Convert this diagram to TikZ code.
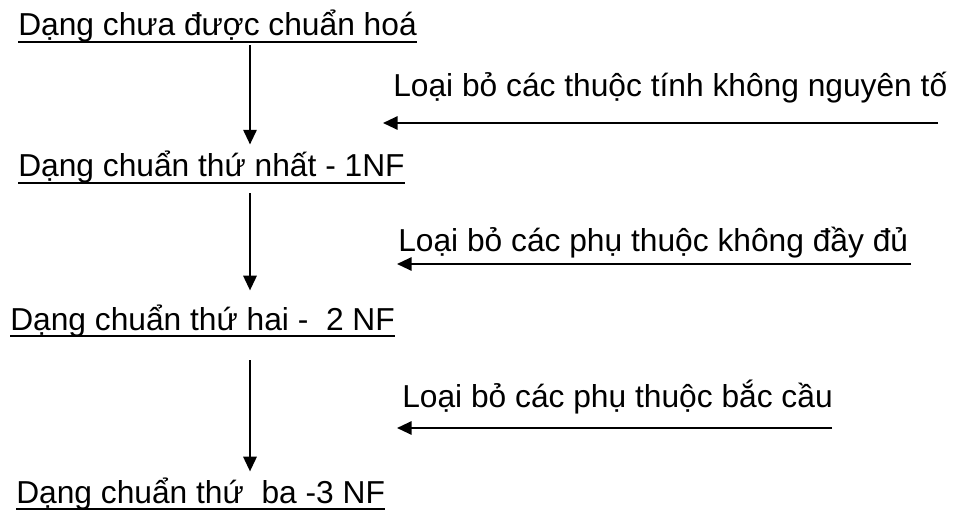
\documentclass[tikz,border=0pt]{standalone}
\usepackage{fontspec}
\setmainfont{Liberation Sans}
\usetikzlibrary{arrows.meta}
\newcommand{\ulbox}[1]{\setbox0=\hbox{#1}\rlap{\rule[-5pt]{\wd0}{1.5pt}}\box0}

\begin{document}
\begin{tikzpicture}[x=0.75pt, y=-0.75pt,
  every node/.style={font=\fontsize{23.8}{28}\selectfont, inner sep=0pt, anchor=base west},
  flow/.style={-{Triangle[length=11pt,width=10pt]}, line width=1.5pt}]
\useasboundingbox (0,0) rectangle (956,513);
\node (nf0) at (18,36) {\ulbox{Dạng chưa được chuẩn hoá}};
\node (nf1) at (18,177) {\ulbox{Dạng chuẩn thứ nhất - 1NF}};
\node (nf2) at (10,330) {\ulbox{Dạng chuẩn thứ hai -~ 2 NF}};
\node (nf3) at (16,503) {\ulbox{Dạng chuẩn thứ~ ba -3 NF}};

\node (rm1) at (393,97) {Loại bỏ các thuộc tính không nguyên tố};
\node (rm2) at (398,252) {Loại bỏ các phụ thuộc không đầy đủ};
\node (rm3) at (402,407) {Loại bỏ các phụ thuộc bắc cầu};

\coordinate (axis) at (250,0);
\draw[flow, shorten <=1.7pt, shorten >=5pt] (nf0.south -| axis) -- (nf1.north -| axis);
\draw[flow, shorten <=7pt, shorten >=10.3pt] (nf1.south -| axis) -- (nf2.north -| axis);
\draw[flow, shorten <=17.5pt, shorten >=4.3pt] (nf2.south -| axis) -- (nf3.north -| axis);

\coordinate (s1) at (938,123);
\coordinate (e1) at (383,123);
\coordinate (s2) at (911,264);
\coordinate (e2) at (397,264);
\coordinate (s3) at (832,428);
\coordinate (e3) at (397,428);
\draw[flow] (s1) -- (e1);
\draw[flow] (s2) -- (e2);
\draw[flow] (s3) -- (e3);
\end{tikzpicture}
\end{document}
